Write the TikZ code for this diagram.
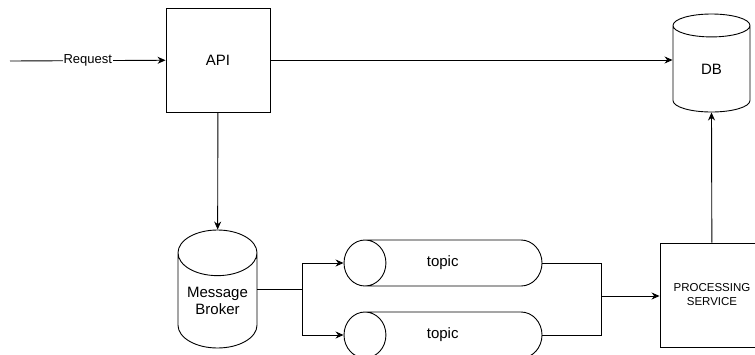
\documentclass[tikz,border=0pt]{standalone}
\usepackage{fontspec}
\setmainfont{Liberation Sans}
\usepackage{tikz}
\usetikzlibrary{shapes.geometric, arrows.meta}

\begin{document}
\begin{tikzpicture}[>={Stealth[length=8pt,width=7pt]}, x=1pt, y=-1pt, line width=0.9pt,
    box/.style={draw, fill=white, minimum width=104pt, minimum height=104pt, inner sep=0pt, align=center},
    store/.style={draw, fill=white, cylinder, shape border rotate=90, aspect=1.1, anchor=shape center, inner sep=0pt, align=center},
    queue/.style={draw, fill=white, cylinder, shape border rotate=180, aspect=3.0, anchor=shape center, minimum width=46pt, minimum height=198pt, inner sep=0pt},
    txt/.style={font=\fontsize{15}{17}\selectfont}]
    \useasboundingbox (0,0) rectangle (755,354);
    \clip (0,0) rectangle (755,354);
    % services
    \node[box, txt] (api) at (218,60) {API};
    \node[box, font=\fontsize{11.5}{14}\selectfont] (proc) at (712,295) {PROCESSING\\SERVICE};
    % storage
    \node[store, txt, minimum width=77pt, minimum height=98pt] (db) at (711.5,63) {DB};
    \node[store, txt, aspect=0.75, minimum width=79pt, minimum height=118pt] (broker) at (217.5,289) {Message\\Broker};
    % topics (text pulled back to the middle of the tube)
    \node[queue, txt] (t1) at (443,263) {\hspace*{-22pt}topic};
    \node[queue, txt] (t2) at (443,335) {\hspace*{-22pt}topic};
    % incoming request
    \coordinate (req) at (10,61);
    \draw[->] (req) -- node[fill=white, inner sep=1pt, font=\fontsize{13}{15}\selectfont] {Request} (api);
    \draw[->] (api) -- (api -| db.west);
    \draw[->] (api) -- (broker);
    % fan out to topics and back in
    \coordinate (split) at (302,289);
    \coordinate (merge) at (601,296);
    \draw (broker.east |- split) -- (split);
    \foreach \t in {t1, t2} \draw[->] (split) |- (\t.west);
    \foreach \t in {t1, t2} \draw (\t.east) -| (merge);
    \draw[->] (merge) -- (merge -| proc.west);
    \draw[->] (proc) -- (db.south);
\end{tikzpicture}
\end{document}
